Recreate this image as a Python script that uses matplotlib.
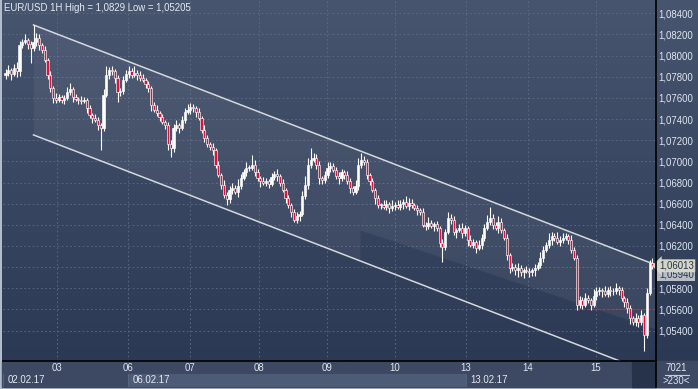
import numpy as np
import matplotlib.pyplot as plt

plt.rcParams['font.family'] = ['Liberation Sans', 'DejaVu Sans']

# EUR/USD hourly candles, values in pips above 1.0500
first_open = 282
close_pips = [
    284, 286, 283, 288, 285, 310, 313, 315, 311, 307, 313, 317, 310, 305, 296, 282, 269, 260, 258, 261,
    258, 260, 266, 268, 261, 259, 258, 257, 258, 250, 244, 241, 239, 234, 232, 263, 282, 286, 285, 279,
    266, 267, 277, 283, 285, 282, 284, 282, 279, 277, 273, 269, 253, 249, 246, 242, 237, 234, 216, 213,
    232, 234, 232, 239, 247, 249, 251, 250, 247, 241, 230, 222, 216, 214, 211, 197, 187, 178, 168, 164,
    173, 175, 171, 177, 184, 190, 194, 194, 197, 190, 184, 181, 180, 181, 179, 185, 188, 186, 180, 173,
    165, 159, 152, 145, 148, 150, 167, 178, 197, 201, 203, 197, 184, 182, 187, 194, 196, 192, 186, 184,
    190, 187, 181, 175, 171, 177, 197, 201, 199, 187, 181, 173, 165, 159, 159, 157, 160, 156, 158, 159,
    157, 160, 162, 158, 161, 159, 156, 154, 152, 140, 139, 142, 139, 141, 137, 123, 119, 133, 146, 145,
    133, 135, 137, 132, 137, 126, 121, 124, 118, 121, 128, 137, 143, 146, 140, 137, 143, 135, 128, 111,
    99, 100, 97, 99, 95, 97, 96, 95, 97, 99, 102, 109, 116, 121, 126, 129, 128, 124, 126, 128,
    129, 126, 116, 109, 64, 69, 64, 71, 69, 64, 73, 77, 78, 77, 75, 78, 77, 77, 80, 78,
    71, 67, 61, 52, 48, 52, 48, 55, 36, 76, 104, 101,
]
upper_wick = [
    3, 5, 2, 4, 6, 4, 3, 5, 2, 3, 16, 4, 3, 2, 4, 2, 3, 2, 5, 3,
    2, 3, 4, 6, 2, 3, 2, 4, 3, 2, 3, 2, 4, 3, 2, 5, 8, 3, 4, 2,
    3, 2, 4, 3, 5, 3, 6, 2, 3, 4, 2, 3, 2, 3, 4, 2, 3, 2, 3, 4,
    3, 5, 2, 4, 3, 5, 4, 3, 2, 3, 2, 4, 3, 2, 3, 2, 3, 2, 4, 3,
    4, 5, 3, 6, 4, 3, 5, 3, 9, 4, 3, 2, 4, 3, 2, 4, 3, 5, 2, 3,
    2, 3, 2, 3, 4, 3, 5, 8, 6, 12, 5, 4, 3, 2, 4, 5, 3, 2, 3, 4,
    3, 2, 4, 3, 2, 5, 6, 7, 4, 3, 2, 3, 2, 3, 2, 4, 3, 2, 5, 3,
    4, 3, 2, 5, 4, 3, 2, 3, 2, 4, 3, 5, 3, 2, 3, 2, 4, 3, 6, 4,
    3, 2, 4, 5, 3, 2, 4, 3, 2, 5, 3, 4, 6, 11, 4, 3, 5, 3, 2, 3,
    2, 4, 3, 5, 3, 2, 4, 3, 2, 4, 3, 5, 4, 3, 6, 4, 3, 5, 3, 4,
    3, 2, 4, 3, 2, 4, 3, 5, 3, 2, 6, 4, 3, 2, 5, 3, 4, 3, 5, 2,
    3, 2, 4, 3, 2, 5, 3, 4, 2, 4, 3, 5,
]
lower_wick = [
    4, 3, 6, 2, 5, 4, 3, 2, 5, 14, 3, 4, 5, 3, 2, 4, 3, 5, 3, 2,
    3, 4, 2, 3, 5, 2, 4, 3, 2, 4, 3, 5, 2, 4, 21, 3, 2, 4, 3, 5,
    10, 4, 3, 2, 4, 3, 2, 5, 3, 2, 4, 3, 5, 2, 3, 4, 2, 3, 5, 9,
    4, 3, 5, 2, 3, 2, 4, 3, 5, 2, 3, 4, 2, 3, 5, 3, 2, 4, 3, 5,
    3, 4, 2, 5, 3, 2, 4, 3, 2, 4, 3, 5, 2, 3, 4, 2, 3, 5, 3, 2,
    4, 3, 5, 2, 3, 4, 2, 3, 4, 3, 2, 4, 5, 3, 2, 3, 4, 2, 3, 5,
    3, 4, 2, 5, 3, 2, 4, 3, 2, 4, 3, 2, 5, 3, 4, 2, 3, 5, 3, 4,
    2, 3, 5, 2, 4, 3, 2, 5, 3, 2, 4, 3, 2, 5, 3, 4, 14, 3, 2, 4,
    3, 5, 2, 4, 3, 6, 2, 3, 5, 2, 4, 3, 2, 3, 4, 2, 5, 3, 2, 4,
    5, 3, 4, 6, 3, 5, 2, 4, 3, 5, 2, 3, 4, 2, 3, 5, 3, 2, 4, 3,
    2, 4, 3, 2, 5, 3, 4, 2, 3, 5, 2, 4, 3, 5, 2, 3, 4, 3, 2, 4,
    3, 5, 4, 6, 3, 4, 5, 3, 15, 3, 2, 3,
]

day_labels = ['03', '06', '07', '08', '09', '10', '13', '14', '15']
day_pos = [18.4, 43.8, 65.9, 90.5, 114.8, 139.1, 164.5, 186.6, 210.9]
date_labels = ['02.02.17', '06.02.17', '13.02.17']
date_pos = [-0.9, 43.8, 164.5]
price_ticks = np.arange(1.054, 1.0841, 0.002)

# drawn channel (start candle, start price, slope per candle, width)
chan_start, chan_price, chan_slope, chan_width = 10, 1.0829, -0.0001021, 0.0104
band_start, band_low0, band_low1 = 126.6, 1.06351, 1.05434
level_line = 1.0560
bid, ask_label = 1.06013, 1.05940

n = len(close_pips)
x = np.arange(n)
c = 1.05 + np.array(close_pips) / 1e4
o = np.concatenate([[1.05 + first_open / 1e4], c[:-1]])
top = np.maximum(o, c)
bot = np.minimum(o, c)
hi = top + np.array(upper_wick) / 1e4
lo = bot - np.array(lower_wick) / 1e4

W, H = 698, 389
FS = 6.9
fig = plt.figure(figsize=(W / 100, H / 100), dpi=100, facecolor='#b3bccb')

# background panels in pixel coordinates
bg = fig.add_axes([0, 0, 1, 1], zorder=0)
bg.set_xlim(0, W)
bg.set_ylim(H, 0)
bg.axis('off')
grad = np.linspace(0, 1, 256)[:, None]
top_col = np.array([0x48, 0x55, 0x6f]) / 255
bot_col = np.array([0x2c, 0x39, 0x54]) / 255
img = top_col + (bot_col - top_col) * grad[:, :, None]
bg.imshow(img, extent=[2, W, 361, 0], aspect='auto', zorder=0)
bg.add_patch(plt.Rectangle((2, 361), W - 2, 26, color='#3d4963', zorder=1))
bg.add_patch(plt.Rectangle((632, 361), 23, 26, color='#27324b', zorder=2))

# main price axes
ax = fig.add_axes([3 / W, 28 / H, 652 / W, 361 / H], zorder=1)
ax.patch.set_alpha(0)
ax.set_xlim(-0.893, 231.96)
ax.set_ylim(1.051124, 1.085258)

# channel shading and lines
xs = np.array([chan_start, 240])
up = chan_price + chan_slope * (xs - chan_start)
ax.fill_between([chan_start, band_start],
                chan_price + chan_slope * (np.array([chan_start, band_start]) - chan_start),
                chan_price - chan_width + chan_slope * (np.array([chan_start, band_start]) - chan_start),
                color='white', alpha=0.05, lw=0, zorder=1)
bx = np.array([band_start, 231.96])
ax.fill_between(bx, chan_price + chan_slope * (bx - chan_start),
                [band_low0, band_low0 + (band_low1 - band_low0) * (231.96 - band_start) / (230.2 - band_start)],
                color='white', alpha=0.06, lw=0, zorder=1)
ax.plot(xs, up, color='#d4d8de', lw=1.1, zorder=2)
ax.plot(xs, up - chan_width, color='#d4d8de', lw=1.1, zorder=2)

# level line
ax.plot([204, 231.96], [level_line, level_line], color='#d8203c', lw=0.9,
        dashes=(2.5, 1.5), zorder=2)

# candles
colors = np.where(c < o, '#e0103a', 'white')
ax.vlines(x, lo, hi, color='white', lw=0.8, zorder=3)
ax.bar(x, np.maximum(top - bot, 0.00003), bottom=bot, width=0.72, color=colors,
       edgecolor='white', linewidth=0.45, zorder=4)

# grid and ticks
ax.set_yticks(price_ticks)
ax.set_yticklabels([f'{p:.5f}'.replace('.', ',') for p in price_ticks])
ax.yaxis.tick_right()
ax.set_xticks(day_pos)
ax.set_xticklabels(day_labels)
ax.tick_params(axis='y', length=0, pad=2.5, labelsize=FS, labelcolor='#dfe6f0')
ax.tick_params(axis='x', length=0, pad=1.5, labelsize=FS, labelcolor='#dfe6f0')
ax.grid(True, color='#5f6c87', lw=0.6, dashes=(2, 3))
ax.set_axisbelow(True)
for s in ax.spines.values():
    s.set_visible(False)

# current price labels
tr = ax.get_yaxis_transform()
ax.text(1.006, ask_label - 0.0001, f'{ask_label:.5f}'.replace('.', ','), transform=tr,
        fontsize=FS, color='#28334a', va='center', ha='left', clip_on=False, zorder=9,
        bbox=dict(boxstyle='square,pad=0.15', fc='#b9bec6', ec='none'))
ax.text(1.006, bid, f'{bid:.5f}'.replace('.', ','), transform=tr,
        fontsize=FS, color='#28334a', va='center', ha='left', clip_on=False, zorder=10,
        bbox=dict(boxstyle='larrow,pad=0.15', fc='#d4d6c8', ec='none'))

# date row
dax = fig.add_axes([3 / W, 2.5 / H, 652 / W, 12.5 / H], sharex=ax, zorder=1)
dax.set_ylim(0, 1)
dax.axis('off')
edges = date_pos + [223.75]
row_cols = ['#3d4963', '#4e5b76', '#3d4963']
for i, lab in enumerate(date_labels):
    dax.axvspan(edges[i], edges[i + 1], color=row_cols[i], lw=0)
    dax.axvline(edges[i], color='#5a6781', lw=0.6)
    dax.text(edges[i] + 1.6, 0.5, lab, fontsize=FS, color='#e4eaf4', va='center', ha='left')

# foreground chrome
fg = fig.add_axes([0, 0, 1, 1], zorder=3)
fg.set_xlim(0, W)
fg.set_ylim(H, 0)
fg.axis('off')
fg.plot([655.5, 655.5], [0, 387], color='black', lw=1.2)
fg.plot([3, 655.5], [361, 361], color='black', lw=1.2)
fg.plot([665, 689], [374.5, 374.5], color='#c4ccd8', lw=0.8)
fg.text(676.5, 368, '7021', fontsize=FS, color='#dfe6f0', ha='center', va='center')
fg.text(676.5, 381, '>230<', fontsize=FS, color='#dfe6f0', ha='center', va='center')
fg.text(4, 8, 'EUR/USD 1H High = 1,0829 Low = 1,05205', fontsize=FS,
        color='#e4eaf4', ha='left', va='center')

fig.savefig('out.png', dpi=100, facecolor=fig.get_facecolor())
